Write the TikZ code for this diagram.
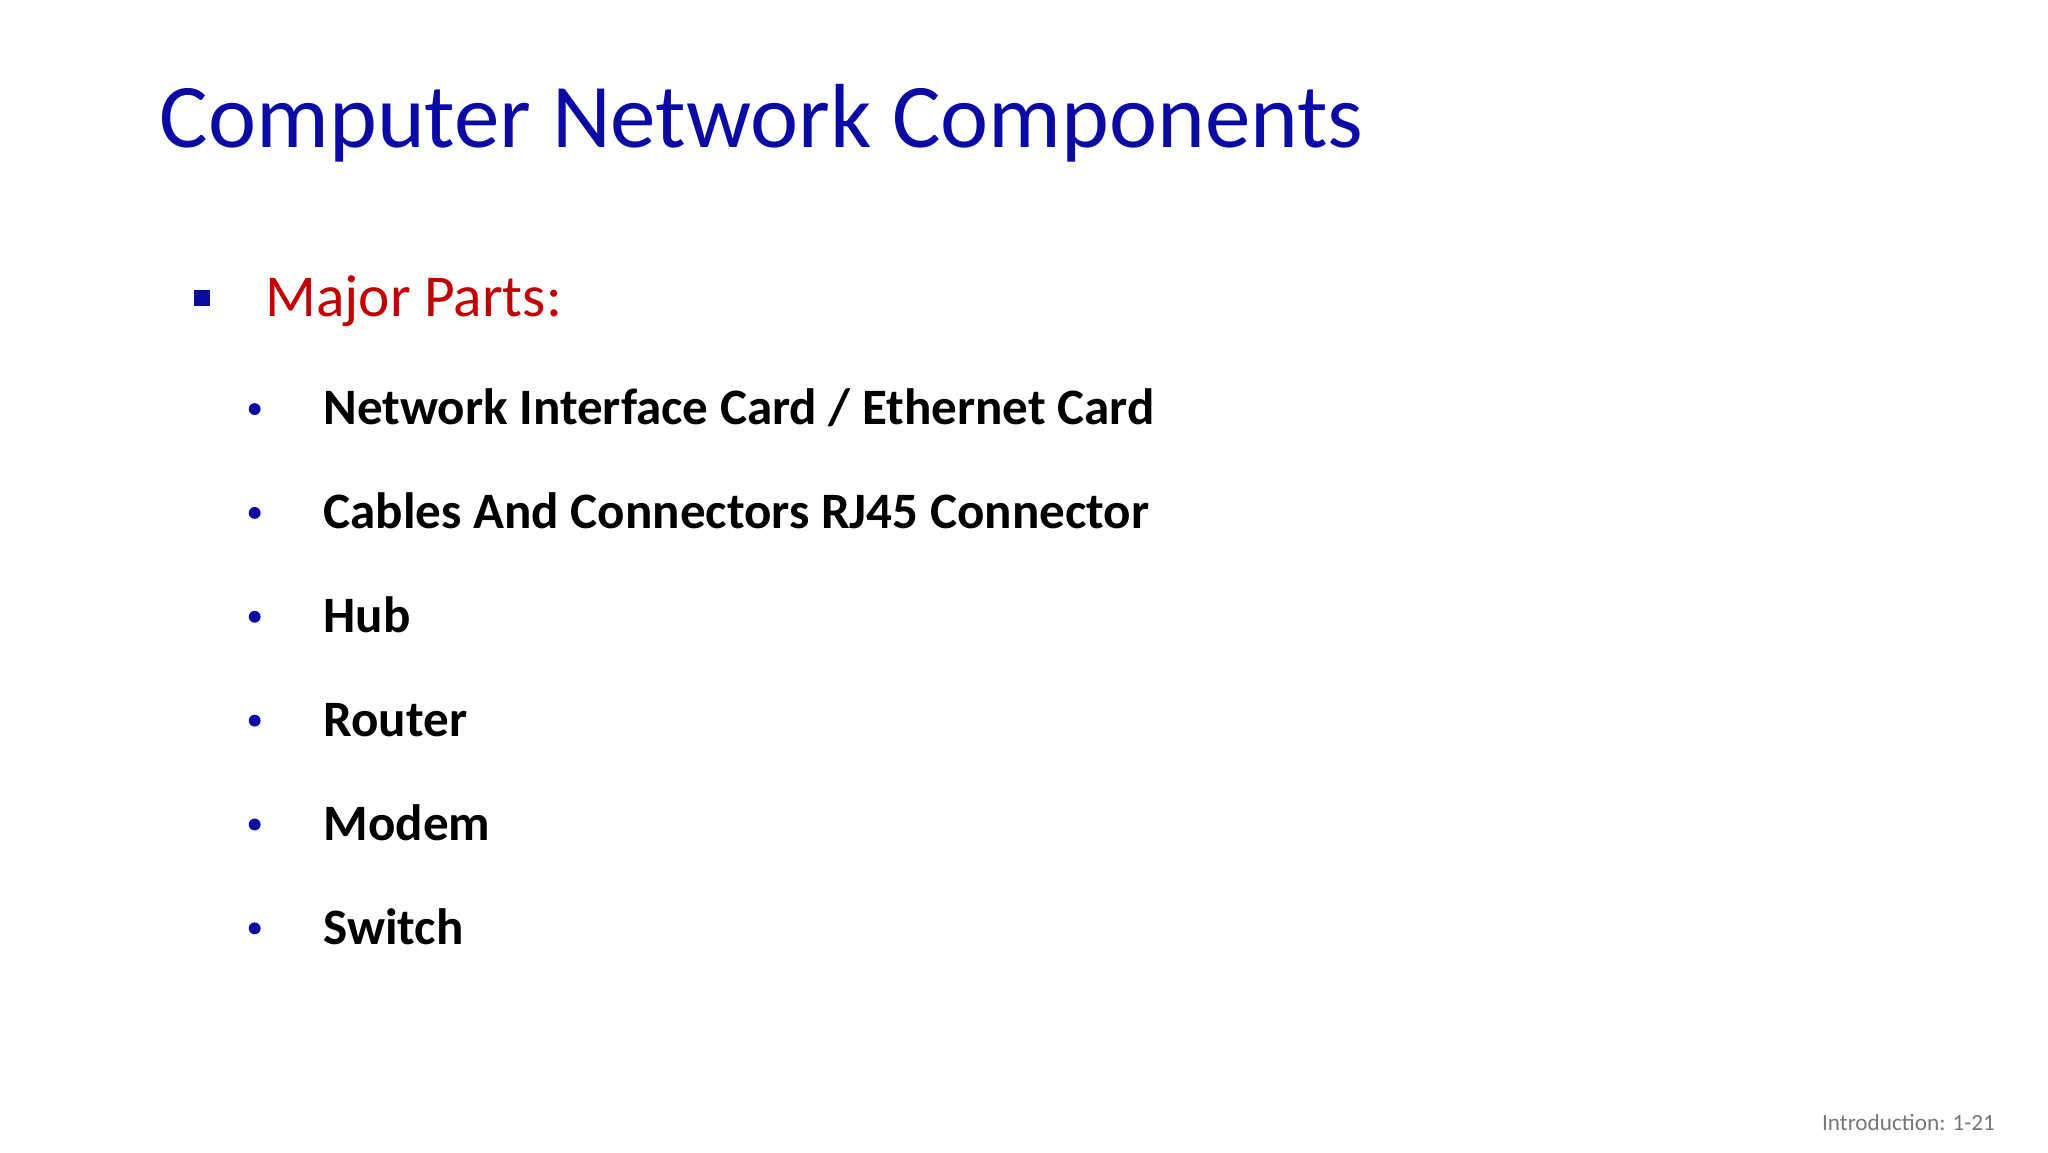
\documentclass[tikz,border=0pt]{standalone}
\usepackage{fontspec}
\setmainfont{Carlito}
\definecolor{titleblue}{RGB}{10,10,165}
\definecolor{darkred}{RGB}{192,0,0}
\definecolor{footgray}{RGB}{118,118,118}
\begin{document}
\begin{tikzpicture}[x=1pt,y=-1pt,
  item/.style={anchor=base west,font=\fontsize{38.7}{44}\selectfont\bfseries,inner sep=0pt},
  dotb/.style={fill=titleblue,circle,inner sep=0pt,minimum size=9pt}]
\useasboundingbox (0,0) rectangle (1552,873);
\node[anchor=base west,inner sep=0pt,text=titleblue,font=\fontsize{69}{76}\selectfont] (title) at (121,112) {Computer Network Components};
\node[fill=titleblue,inner sep=0pt,minimum size=12pt] (sq) at (153,226) {};
\node[anchor=base west,inner sep=0pt,text=darkred,font=\fontsize{45}{52}\selectfont] (major) at (201,240) {Major Parts:};
\foreach \t [count=\i] in {Network Interface Card / Ethernet Card,Cables And Connectors RJ45 Connector,Hub,Router,Modem,Switch}{
  \pgfmathsetmacro{\yy}{322+78.7*(\i-1)}
  \node[dotb] (d\i) at (193,\yy-12) {};
  \node[item] (it\i) at (245,\yy) {\t};
}
\node[anchor=base east,inner sep=0pt,text=footgray,font=\fontsize{17.6}{21}\selectfont] (foot) at (1512,857) {Introduction: 1-21};
\end{tikzpicture}
\end{document}
